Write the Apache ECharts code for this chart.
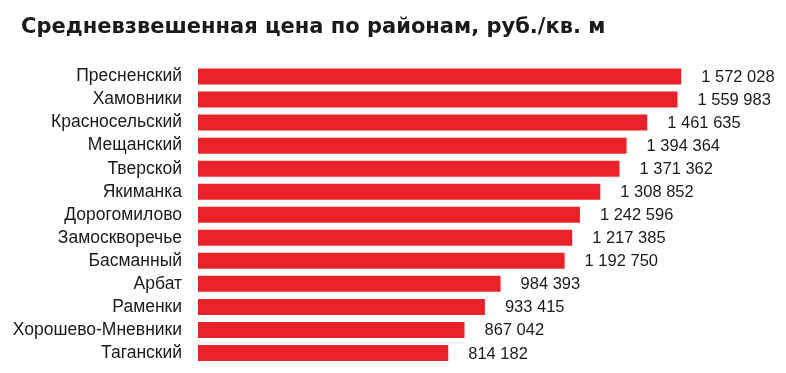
<!DOCTYPE html>
<html>
<head>
<meta charset="utf-8">
<script src="https://cdn.jsdelivr.net/npm/echarts@6/dist/echarts.min.js"></script>
<style>
  html, body { margin: 0; padding: 0; background: #ffffff; }
  #chart { width: 786px; height: 373px; }
</style>
</head>
<body>
<div id="chart"></div>
<script>
const titleText = 'Средневзвешенная цена по районам, руб./кв. м';
const districts = ['Пресненский', 'Хамовники', 'Красносельский', 'Мещанский', 'Тверской', 'Якиманка', 'Дорогомилово', 'Замоскворечье', 'Басманный', 'Арбат', 'Раменки', 'Хорошево-Мневники', 'Таганский'];
const prices = [1572028, 1559983, 1461635, 1394364, 1371362, 1308852, 1242596, 1217385, 1192750, 984393, 933415, 867042, 814182];

const fmt = v => String(v).replace(/\B(?=(\d{3})+(?!\d))/g, ' ');

const chart = echarts.init(document.getElementById('chart'), null, { renderer: 'canvas' });
chart.setOption({
  animation: false,
  backgroundColor: '#ffffff',
  title: {
    text: titleText,
    left: 16,
    top: 12,
    textStyle: { fontFamily: 'DejaVu Sans', fontWeight: 'bold', fontSize: 21, color: '#1a1a1a' }
  },
  grid: { left: 198, right: 4, top: 65, bottom: 8.5 },
  xAxis: {
    type: 'value', min: 0, max: 1900000, show: false
  },
  yAxis: {
    type: 'category',
    data: districts,
    inverse: true,
    axisLine: { show: false },
    axisTick: { show: false },
    axisLabel: { interval: 0, margin: 16, fontFamily: 'Liberation Sans', fontSize: 17.5, color: '#1a1a1a' }
  },
  series: [{
    type: 'bar',
    data: prices,
    barWidth: 16,
    itemStyle: { color: '#e92229' },
    label: {
      show: true,
      position: 'right',
      distance: 20,
      formatter: p => fmt(p.value),
      fontFamily: 'Liberation Sans',
      fontSize: 16.5,
      color: '#1a1a1a',
      offset: [0, 1]
    }
  }]
});
</script>
</body>
</html>
